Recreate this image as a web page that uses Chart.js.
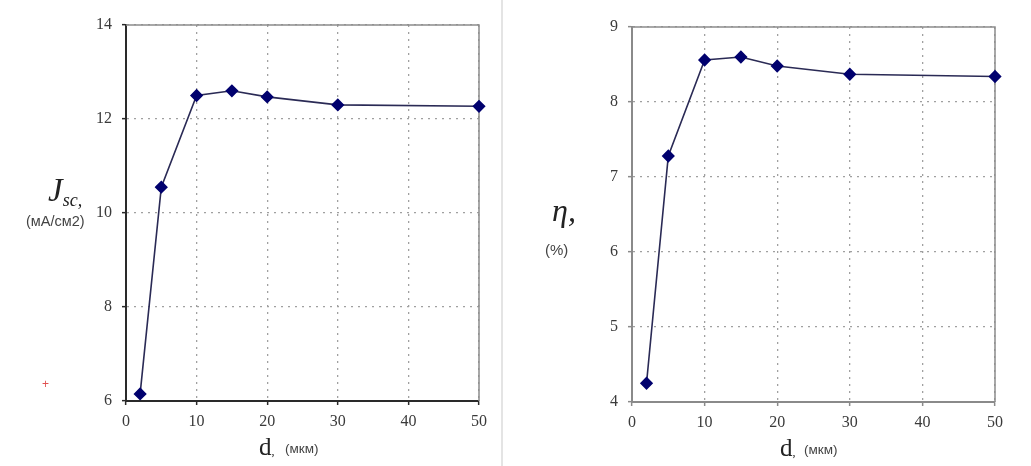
<!DOCTYPE html>
<html lang="ru">
<head>
    <meta charset="UTF-8">
    <title>Jsc и η от d</title>
    <style>
        body { margin: 0; background: #fff; }
        #page { position: relative; width: 1031px; height: 466px; overflow: hidden; }
        canvas { position: absolute; top: 0; }
        .lbl { position: absolute; white-space: nowrap; color: #333; }
        .serif { font-family: "Liberation Serif", "DejaVu Serif", serif; }
        .sans { font-family: "Liberation Sans", Arial, sans-serif; }
        #divider { position: absolute; left: 501px; top: 0; width: 2px; height: 466px; background: #e4e4e4; }
    </style>
</head>
<body>
<div id="page">
    <canvas id="chartJ" width="500" height="466" style="left:0"></canvas>
    <div id="divider"></div>
    <canvas id="chartEta" width="526" height="466" style="left:505px"></canvas>

    <!-- y titles -->
    <div class="lbl serif" style="left:48px; top:172px; font-size:33px; font-style:italic; color:#222">J<span style="font-size:18px; position:relative; top:5px">sc,</span></div>
    <div class="lbl sans" style="left:26px; top:213px; font-size:14.5px; color:#444">(мА/см2)</div>
    <div class="lbl serif" style="left:552px; top:192px; font-size:32px; font-style:italic; color:#222">η,</div>
    <div class="lbl sans" style="left:545px; top:241px; font-size:15px; color:#444">(%)</div>

    <!-- x titles -->
    <div class="lbl serif" style="left:259px; top:433px; font-size:25px; color:#222">d<span style="font-size:12px">,</span></div>
    <div class="lbl sans" style="left:285px; top:441px; font-size:13.5px; color:#444">(мкм)</div>
    <div class="lbl serif" style="left:780px; top:434px; font-size:25px; color:#222">d<span style="font-size:12px">,</span></div>
    <div class="lbl sans" style="left:804px; top:442px; font-size:13.5px; color:#444">(мкм)</div>

    <div class="lbl sans" style="left:42px; top:377px; font-size:12px; color:#e05050">+</div>
</div>

<script src="https://cdn.jsdelivr.net/npm/chart.js@4.4.1/dist/chart.umd.min.js"></script>
<script>
    // толщина d, мкм
    const thickness = [2, 5, 10, 15, 20, 30, 50];
    // ток короткого замыкания, мА/см2
    const jscValues = [6.15, 10.55, 12.5, 12.6, 12.47, 12.3, 12.27];
    // КПД, %
    const etaValues = [4.25, 7.28, 8.56, 8.6, 8.48, 8.37, 8.34];

    const xTicks = [0, 10, 20, 30, 40, 50];
    const jscTicks = [6, 8, 10, 12, 14];
    const etaTicks = [4, 5, 6, 7, 8, 9];

    // top + right frame of plot area
    const framePlugin = {
        id: 'frame',
        beforeDatasetsDraw(chart) {
            const a = chart.chartArea;
            const c = chart.ctx;
            c.save();
            c.strokeStyle = '#8c8c8c';
            c.lineWidth = 1.5;
            c.beginPath();
            c.moveTo(a.left, a.top);
            c.lineTo(a.right, a.top);
            c.lineTo(a.right, a.bottom);
            c.stroke();
            c.restore();
        }
    };

    function makeChart(id, values, yTicks, axisColor, pad, yWidth, xHeight) {
        const pts = thickness.map(function (d, i) { return {x: d, y: values[i]}; });
        const tickFont = {family: '"Liberation Serif", serif', size: 16};
        return new Chart(document.getElementById(id), {
            type: 'line',
            data: {
                datasets: [{
                    data: pts,
                    borderColor: '#2a2a55',
                    borderWidth: 1.6,
                    pointStyle: 'rectRot',
                    pointRadius: 5.5,
                    pointBackgroundColor: '#00006e',
                    pointBorderColor: '#00006e',
                    tension: 0,
                    clip: false
                }]
            },
            options: {
                responsive: false,
                animation: false,
                devicePixelRatio: 1,
                layout: {padding: pad},
                plugins: {legend: {display: false}, tooltip: {enabled: false}},
                scales: {
                    x: {
                        type: 'linear',
                        min: xTicks[0],
                        max: xTicks[xTicks.length - 1],
                        afterFit: function (s) { s.height = xHeight; },
                        afterBuildTicks: function (s) { s.ticks = xTicks.map(function (v) { return {value: v}; }); },
                        ticks: {font: tickFont, color: '#3a3a3a', padding: 7},
                        grid: {color: '#a0a0a0', lineWidth: 1.3, tickLength: 4, tickColor: axisColor, tickWidth: 1.5},
                        border: {color: axisColor, width: 2, dash: [2, 5]}
                    },
                    y: {
                        min: yTicks[0],
                        max: yTicks[yTicks.length - 1],
                        afterFit: function (s) { s.width = yWidth; },
                        afterBuildTicks: function (s) { s.ticks = yTicks.map(function (v) { return {value: v}; }); },
                        ticks: {font: tickFont, color: '#3a3a3a', padding: 10},
                        grid: {color: '#a0a0a0', lineWidth: 1.3, tickLength: 4, tickColor: axisColor, tickWidth: 1.5},
                        border: {color: axisColor, width: 2, dash: [2, 5]}
                    }
                }
            },
            plugins: [framePlugin]
        });
    }

    makeChart('chartJ', jscValues, jscTicks, '#2a2a2a', {top: 25, right: 21, left: 0, bottom: 0}, 126, 65);
    makeChart('chartEta', etaValues, etaTicks, '#8a8a8a', {top: 27, right: 36, left: 0, bottom: 0}, 127, 64);
</script>
</body>
</html>
